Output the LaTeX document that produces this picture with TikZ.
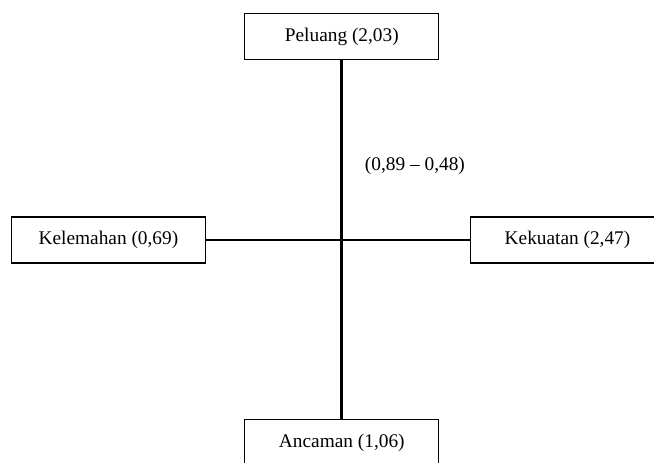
\documentclass[tikz,border=0pt]{standalone}
\usepackage{fontspec}
\setmainfont{Liberation Serif}
\usepackage{tikz}

\begin{document}
\begin{tikzpicture}[main/.style = {draw, line width=1pt, rectangle, minimum width=145.5pt, minimum height=34.5pt, inner sep=0pt}, axis/.style = {line width=2.2pt}, font=\fontsize{14.5}{17}\selectfont]
\clip (0,0) rectangle (490.5pt,-347.25pt);
\coordinate (c) at (256.35pt,-180pt);
\node[main] (1) [above of=c, node distance=152.7pt] {Peluang (2,03)};
\node[main] (2) [left of=c, node distance=175pt] {Kelemahan (0,69)};
\node[main] (3) [right of=c, node distance=169.3pt] {Kekuatan (2,47)};
\node[main] (4) [below of=c, node distance=151.9pt] {Ancaman (1,06)};
\draw[axis] (1) -- (4);
\draw[axis] (2) -- (3);
\node (5) at (311.2pt,-124.5pt) {(0,89 -- 0,48)};
\end{tikzpicture}
\end{document}
